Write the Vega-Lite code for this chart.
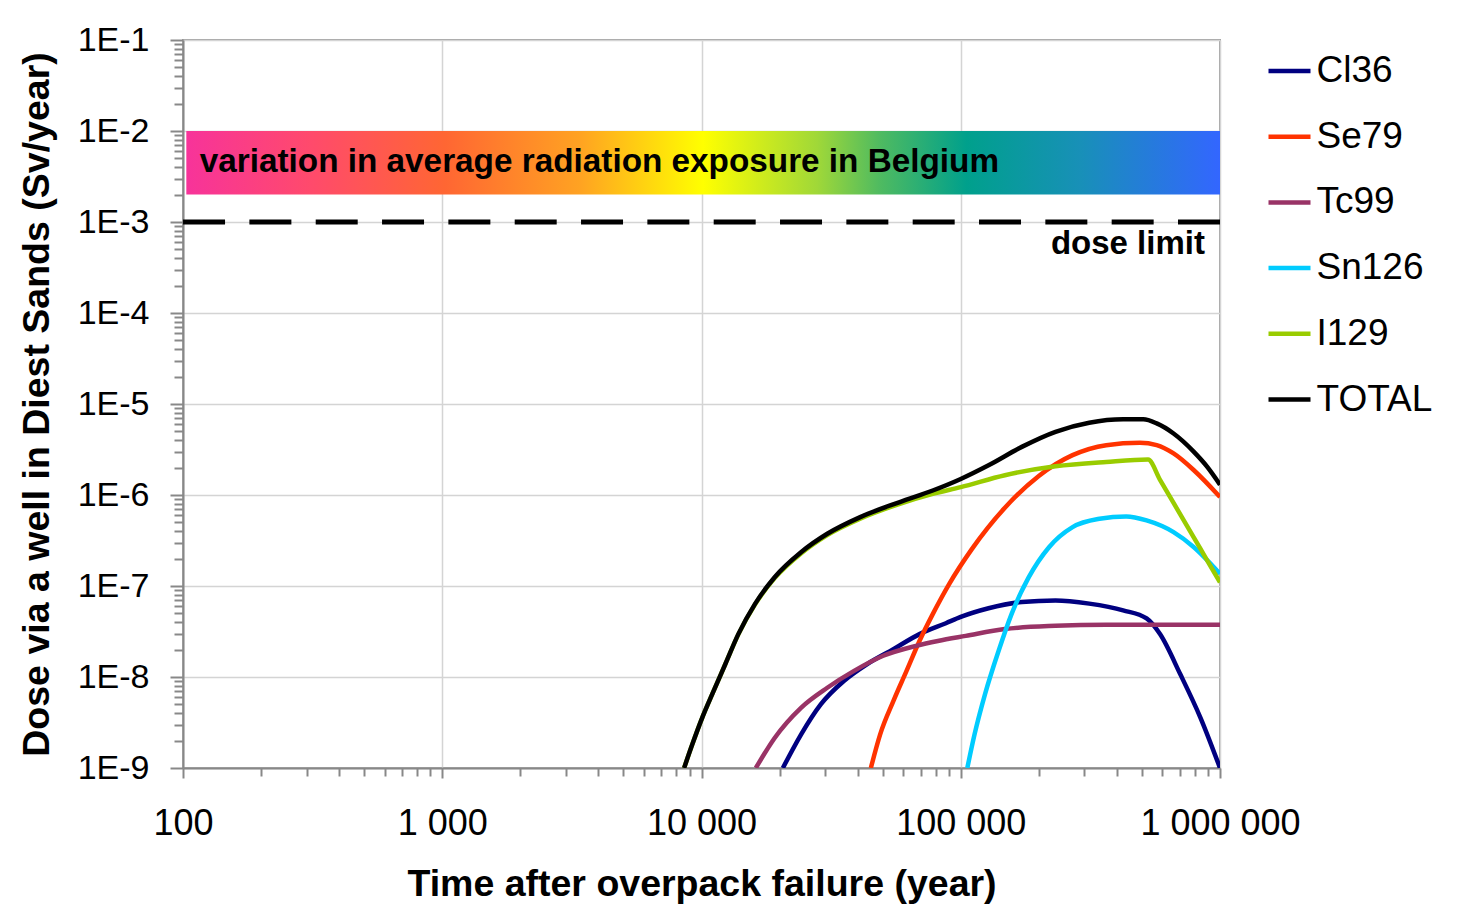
{
  "$schema": "https://vega.github.io/schema/vega-lite/v6.json",
  "width": 1037,
  "height": 728,
  "autosize": {"type": "none"},
  "padding": {"left": 183, "top": 40, "right": 241, "bottom": 146},
  "background": "white",
  "config": {"font": "Liberation Sans", "view": {"stroke": "#a0a0a0", "strokeWidth": 2}},
  "datasets": {
    "band": [{"t0": 103, "t1": 1000000, "d0": 0.01, "d1": 0.002}],
    "noteLeft": [{"t": 116, "d": 0.00354, "label": "variation in average radiation exposure in Belgium"}],
    "noteRight": [{"t": 875000, "d": 0.000445, "label": "dose limit"}],
    "doses": [
      {"series": "Cl36", "t": 20600, "dose": 1e-9},
      {"series": "Cl36", "t": 24200, "dose": 2.33e-9},
      {"series": "Cl36", "t": 28840, "dose": 5.0e-9},
      {"series": "Cl36", "t": 35400, "dose": 9.04e-9},
      {"series": "Cl36", "t": 43450, "dose": 1.38e-8},
      {"series": "Cl36", "t": 54950, "dose": 2.02e-8},
      {"series": "Cl36", "t": 69310, "dose": 2.96e-8},
      {"series": "Cl36", "t": 87630, "dose": 3.9e-8},
      {"series": "Cl36", "t": 100000, "dose": 4.57e-8},
      {"series": "Cl36", "t": 128000, "dose": 5.69e-8},
      {"series": "Cl36", "t": 172000, "dose": 6.68e-8},
      {"series": "Cl36", "t": 232000, "dose": 6.95e-8},
      {"series": "Cl36", "t": 313000, "dose": 6.4e-8},
      {"series": "Cl36", "t": 423000, "dose": 5.4e-8},
      {"series": "Cl36", "t": 521000, "dose": 4.4e-8},
      {"series": "Cl36", "t": 587000, "dose": 2.96e-8},
      {"series": "Cl36", "t": 703000, "dose": 1.07e-8},
      {"series": "Cl36", "t": 841000, "dose": 3.56e-9},
      {"series": "Cl36", "t": 1000000, "dose": 1e-9},
      {"series": "Se79", "t": 45000, "dose": 1e-9},
      {"series": "Se79", "t": 48850, "dose": 2.33e-9},
      {"series": "Se79", "t": 54950, "dose": 5.43e-9},
      {"series": "Se79", "t": 61730, "dose": 1.16e-8},
      {"series": "Se79", "t": 69310, "dose": 2.49e-8},
      {"series": "Se79", "t": 77980, "dose": 4.91e-8},
      {"series": "Se79", "t": 90200, "dose": 1.05e-7},
      {"series": "Se79", "t": 110000, "dose": 2.51e-7},
      {"series": "Se79", "t": 148000, "dose": 7.24e-7},
      {"series": "Se79", "t": 200000, "dose": 1.62e-6},
      {"series": "Se79", "t": 270000, "dose": 2.74e-6},
      {"series": "Se79", "t": 364000, "dose": 3.53e-6},
      {"series": "Se79", "t": 491000, "dose": 3.75e-6},
      {"series": "Se79", "t": 570000, "dose": 3.53e-6},
      {"series": "Se79", "t": 662000, "dose": 2.86e-6},
      {"series": "Se79", "t": 793000, "dose": 1.87e-6},
      {"series": "Se79", "t": 1000000, "dose": 9.5e-7},
      {"series": "Tc99", "t": 16200, "dose": 1e-9},
      {"series": "Tc99", "t": 19150, "dose": 2.14e-9},
      {"series": "Tc99", "t": 24200, "dose": 4.59e-9},
      {"series": "Tc99", "t": 30560, "dose": 7.62e-9},
      {"series": "Tc99", "t": 38620, "dose": 1.16e-8},
      {"series": "Tc99", "t": 50230, "dose": 1.71e-8},
      {"series": "Tc99", "t": 67300, "dose": 2.2e-8},
      {"series": "Tc99", "t": 81600, "dose": 2.49e-8},
      {"series": "Tc99", "t": 104500, "dose": 2.83e-8},
      {"series": "Tc99", "t": 148000, "dose": 3.36e-8},
      {"series": "Tc99", "t": 232000, "dose": 3.65e-8},
      {"series": "Tc99", "t": 364000, "dose": 3.75e-8},
      {"series": "Tc99", "t": 1000000, "dose": 3.75e-8},
      {"series": "Sn126", "t": 106000, "dose": 1e-9},
      {"series": "Sn126", "t": 113000, "dose": 2.33e-9},
      {"series": "Sn126", "t": 124000, "dose": 6.44e-9},
      {"series": "Sn126", "t": 140000, "dose": 1.94e-8},
      {"series": "Sn126", "t": 157000, "dose": 4.91e-8},
      {"series": "Sn126", "t": 183000, "dose": 1.25e-7},
      {"series": "Sn126", "t": 219000, "dose": 2.67e-7},
      {"series": "Sn126", "t": 270000, "dose": 4.44e-7},
      {"series": "Sn126", "t": 343000, "dose": 5.48e-7},
      {"series": "Sn126", "t": 435000, "dose": 5.82e-7},
      {"series": "Sn126", "t": 521000, "dose": 5.26e-7},
      {"series": "Sn126", "t": 662000, "dose": 3.91e-7},
      {"series": "Sn126", "t": 793000, "dose": 2.67e-7},
      {"series": "Sn126", "t": 1000000, "dose": 1.36e-7},
      {"series": "I129", "t": 8570, "dose": 1e-9},
      {"series": "I129", "t": 9210, "dose": 1.81e-9},
      {"series": "I129", "t": 10060, "dose": 3.56e-9},
      {"series": "I129", "t": 10990, "dose": 6.44e-9},
      {"series": "I129", "t": 12350, "dose": 1.38e-8},
      {"series": "I129", "t": 13870, "dose": 2.94e-8},
      {"series": "I129", "t": 16070, "dose": 6.25e-8},
      {"series": "I129", "t": 19150, "dose": 1.22e-7},
      {"series": "I129", "t": 24200, "dose": 2.28e-7},
      {"series": "I129", "t": 30560, "dose": 3.63e-7},
      {"series": "I129", "t": 40940, "dose": 5.5e-7},
      {"series": "I129", "t": 58180, "dose": 8.0e-7},
      {"series": "I129", "t": 77980, "dose": 1.03e-6},
      {"series": "I129", "t": 100000, "dose": 1.22e-6},
      {"series": "I129", "t": 148000, "dose": 1.65e-6},
      {"series": "I129", "t": 232000, "dose": 2.07e-6},
      {"series": "I129", "t": 364000, "dose": 2.31e-6},
      {"series": "I129", "t": 528000, "dose": 2.45e-6},
      {"series": "I129", "t": 587000, "dose": 1.47e-6},
      {"series": "I129", "t": 662000, "dose": 8.18e-7},
      {"series": "I129", "t": 793000, "dose": 3.41e-7},
      {"series": "I129", "t": 893000, "dose": 1.9e-7},
      {"series": "I129", "t": 1000000, "dose": 1.1e-7},
      {"series": "TOTAL", "t": 8570, "dose": 1e-9},
      {"series": "TOTAL", "t": 9210, "dose": 1.81e-9},
      {"series": "TOTAL", "t": 10060, "dose": 3.56e-9},
      {"series": "TOTAL", "t": 10990, "dose": 6.44e-9},
      {"series": "TOTAL", "t": 12350, "dose": 1.38e-8},
      {"series": "TOTAL", "t": 13870, "dose": 2.96e-8},
      {"series": "TOTAL", "t": 16070, "dose": 6.33e-8},
      {"series": "TOTAL", "t": 19150, "dose": 1.25e-7},
      {"series": "TOTAL", "t": 24200, "dose": 2.35e-7},
      {"series": "TOTAL", "t": 30560, "dose": 3.75e-7},
      {"series": "TOTAL", "t": 40940, "dose": 5.72e-7},
      {"series": "TOTAL", "t": 58180, "dose": 8.37e-7},
      {"series": "TOTAL", "t": 77980, "dose": 1.12e-6},
      {"series": "TOTAL", "t": 100000, "dose": 1.5e-6},
      {"series": "TOTAL", "t": 128000, "dose": 2.12e-6},
      {"series": "TOTAL", "t": 172000, "dose": 3.38e-6},
      {"series": "TOTAL", "t": 232000, "dose": 4.95e-6},
      {"series": "TOTAL", "t": 313000, "dose": 6.22e-6},
      {"series": "TOTAL", "t": 423000, "dose": 6.78e-6},
      {"series": "TOTAL", "t": 506000, "dose": 6.78e-6},
      {"series": "TOTAL", "t": 570000, "dose": 6.12e-6},
      {"series": "TOTAL", "t": 662000, "dose": 4.74e-6},
      {"series": "TOTAL", "t": 793000, "dose": 2.98e-6},
      {"series": "TOTAL", "t": 893000, "dose": 2.04e-6},
      {"series": "TOTAL", "t": 1000000, "dose": 1.3e-6}
    ]
  },
  "layer": [
    {
      "data": {"name": "band"},
      "mark": {
        "type": "rect",
        "strokeWidth": 0,
        "fill": {
          "gradient": "linear",
          "stops": [
            {"offset": 0, "color": "#f7339a"},
            {"offset": 0.12, "color": "#ff4a6c"},
            {"offset": 0.25, "color": "#ff6633"},
            {"offset": 0.38, "color": "#ffa222"},
            {"offset": 0.5, "color": "#ffff00"},
            {"offset": 0.61, "color": "#a0d838"},
            {"offset": 0.67, "color": "#50bb60"},
            {"offset": 0.755, "color": "#00a08c"},
            {"offset": 0.865, "color": "#1890b8"},
            {"offset": 1, "color": "#3366ff"}
          ]
        }
      },
      "encoding": {
        "x": {"field": "t0", "type": "quantitative", "scale": {"type": "log", "domain": [100, 1000000], "nice": false}, "axis": null},
        "x2": {"field": "t1"},
        "y": {"field": "d0", "type": "quantitative", "scale": {"type": "log", "domain": [1e-9, 0.1], "nice": false}, "axis": null},
        "y2": {"field": "d1"}
      }
    },
    {
      "data": {"values": [{}]},
      "mark": {"type": "rule", "color": "black", "strokeWidth": 5, "strokeDash": [42, 24.33]},
      "encoding": {
        "y": {"datum": 0.001, "type": "quantitative", "scale": {"type": "log", "domain": [1e-9, 0.1], "nice": false}, "axis": null}
      }
    },
    {
      "data": {"name": "noteLeft"},
      "mark": {"type": "text", "align": "left", "baseline": "alphabetic", "font": "Liberation Sans", "fontWeight": "bold", "fontSize": 33.3, "color": "black"},
      "encoding": {
        "x": {"field": "t", "type": "quantitative", "scale": {"type": "log", "domain": [100, 1000000], "nice": false}, "axis": null},
        "y": {"field": "d", "type": "quantitative", "scale": {"type": "log", "domain": [1e-9, 0.1], "nice": false}, "axis": null},
        "text": {"field": "label"}
      }
    },
    {
      "data": {"name": "noteRight"},
      "mark": {"type": "text", "align": "right", "baseline": "alphabetic", "font": "Liberation Sans", "fontWeight": "bold", "fontSize": 33, "color": "black"},
      "encoding": {
        "x": {"field": "t", "type": "quantitative", "scale": {"type": "log", "domain": [100, 1000000], "nice": false}, "axis": null},
        "y": {"field": "d", "type": "quantitative", "scale": {"type": "log", "domain": [1e-9, 0.1], "nice": false}, "axis": null},
        "text": {"field": "label"}
      }
    },
    {
      "data": {"name": "doses"},
      "mark": {"type": "line", "strokeWidth": 4.5, "interpolate": "monotone", "clip": true},
      "encoding": {
        "x": {
          "field": "t", "type": "quantitative",
          "scale": {"type": "log", "domain": [100, 1000000], "nice": false},
          "axis": {
            "orient": "bottom",
            "values": [100, 1000, 10000, 100000, 1000000],
            "labelExpr": "replace(format(datum.value, ','), regexp(',', 'g'), ' ')",
            "labelFontSize": 36, "labelColor": "black", "labelPadding": 28, "labelFlush": false, "labelOverlap": false,
            "tickSize": 10, "tickColor": "#888888", "tickWidth": 2,
            "domainColor": "#888888", "domainWidth": 2,
            "grid": true, "gridColor": "#d4d4d4", "gridWidth": 1.5,
            "title": "Time after overpack failure (year)",
            "titleFontSize": 37.5, "titleFontWeight": "bold", "titleColor": "black", "titlePadding": 24, "titleLimit": 2000
          }
        },
        "y": {
          "field": "dose", "type": "quantitative",
          "scale": {"type": "log", "domain": [1e-9, 0.1], "nice": false},
          "axis": {
            "orient": "left",
            "values": [1e-9, 1e-8, 1e-7, 1e-6, 1e-5, 1e-4, 1e-3, 1e-2, 1e-1],
            "labelExpr": "'1E-' + round(-log(datum.value) / LN10)",
            "labelFontSize": 34, "labelColor": "black", "labelPadding": 21, "labelFlush": false, "labelOverlap": false,
            "tickSize": 13, "tickColor": "#888888", "tickWidth": 2,
            "domainColor": "#888888", "domainWidth": 2,
            "grid": true, "gridColor": "#d4d4d4", "gridWidth": 1.5,
            "title": "Dose via a well in Diest Sands (Sv/year)",
            "titleFontSize": 37.5, "titleFontWeight": "bold", "titleColor": "black", "titlePadding": 21, "titleLimit": 2000
          }
        },
        "color": {
          "field": "series", "type": "nominal",
          "scale": {
            "domain": ["Cl36", "Se79", "Tc99", "Sn126", "I129", "TOTAL"],
            "range": ["#000080", "#ff3300", "#993366", "#00ccff", "#99cc00", "#000000"]
          },
          "legend": {
            "title": null, "orient": "none", "legendX": 1083, "legendY": 10, "padding": 0,
            "symbolType": "stroke", "symbolSize": 1764, "symbolStrokeWidth": 4.5,
            "labelFontSize": 37, "labelFont": "Liberation Sans", "labelColor": "black", "labelOffset": 3.5,
            "rowPadding": 23.7, "clipHeight": 42, "labelLimit": 300
          }
        }
      }
    },
    {
      "data": {"name": "band"},
      "mark": {"type": "point", "opacity": 0},
      "encoding": {
        "x": {
          "field": "t0", "type": "quantitative",
          "scale": {"type": "log", "domain": [100, 1000000], "nice": false},
          "axis": {
            "orient": "bottom",
            "values": [200, 300, 400, 500, 600, 700, 800, 900, 2000, 3000, 4000, 5000, 6000, 7000, 8000, 9000, 20000, 30000, 40000, 50000, 60000, 70000, 80000, 90000, 200000, 300000, 400000, 500000, 600000, 700000, 800000, 900000],
            "labels": false, "domain": false, "grid": false, "title": null,
            "tickSize": 8, "tickColor": "#888888", "tickWidth": 2
          }
        },
        "y": {
          "field": "d0", "type": "quantitative",
          "scale": {"type": "log", "domain": [1e-9, 0.1], "nice": false},
          "axis": {
            "orient": "left",
            "values": [2e-9, 3e-9, 4e-9, 5e-9, 6e-9, 7e-9, 8e-9, 9e-9, 2e-8, 3e-8, 4e-8, 5e-8, 6e-8, 7e-8, 8e-8, 9e-8, 2e-7, 3e-7, 4e-7, 5e-7, 6e-7, 7e-7, 8e-7, 9e-7, 2e-6, 3e-6, 4e-6, 5e-6, 6e-6, 7e-6, 8e-6, 9e-6, 2e-5, 3e-5, 4e-5, 5e-5, 6e-5, 7e-5, 8e-5, 9e-5, 2e-4, 3e-4, 4e-4, 5e-4, 6e-4, 7e-4, 8e-4, 9e-4, 2e-3, 3e-3, 4e-3, 5e-3, 6e-3, 7e-3, 8e-3, 9e-3, 2e-2, 3e-2, 4e-2, 5e-2, 6e-2, 7e-2, 8e-2, 9e-2],
            "labels": false, "domain": false, "grid": false, "title": null,
            "tickSize": 9, "tickColor": "#888888", "tickWidth": 2
          }
        }
      }
    }
  ],
  "resolve": {"axis": {"x": "independent", "y": "independent"}}
}
